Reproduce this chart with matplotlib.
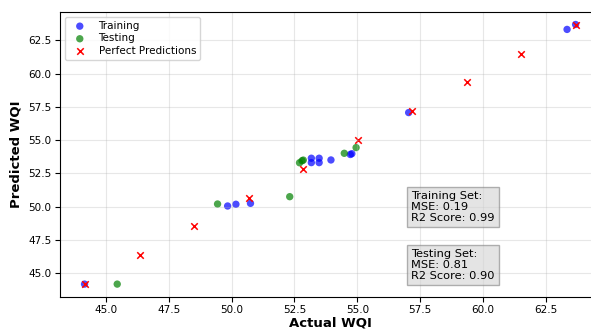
#!/usr/bin/env python3

import matplotlib
matplotlib.use('Agg')
import matplotlib.pyplot as plt

# training set: actual vs predicted
train_actual = [44.15, 49.84, 50.17, 50.75, 53.17, 53.48, 53.17, 53.48,
                53.95, 54.72, 54.78, 57.04, 63.34, 63.68]
train_pred = [44.18, 50.05, 50.18, 50.25, 53.64, 53.64, 53.31, 53.31,
              53.51, 53.92, 53.98, 57.07, 63.32, 63.69]

# testing set: actual vs predicted
test_actual = [45.45, 49.44, 52.31, 52.70, 52.80, 52.85, 54.48, 54.95]
test_pred = [44.18, 50.20, 50.75, 53.30, 53.45, 53.50, 54.01, 54.44]

# perfect prediction line points
perfect = [44.18, 46.35, 48.51, 50.68, 52.85, 55.01, 57.18, 59.35, 61.51, 63.68]

train_txt = "Training Set:\nMSE: 0.19\nR2 Score: 0.99"
test_txt = "Testing Set:\nMSE: 0.81\nR2 Score: 0.90"

fig = plt.figure(figsize=(5.91, 3.29), dpi=100)
ax = fig.add_axes([0.1015, 0.097, 0.914, 0.868])

ax.scatter(train_actual, train_pred, color='blue', alpha=0.7, s=28,
           edgecolors='none', label='Training')
ax.scatter(test_actual, test_pred, color='green', alpha=0.7, s=28,
           edgecolors='none', label='Testing')
ax.scatter(perfect, perfect, color='red', marker='x', s=22, linewidths=1.1,
           label='Perfect Predictions')

ax.grid(True, alpha=0.3)
ax.tick_params(labelsize=7.5, pad=2.5)
ax.set_xlabel('Actual WQI', fontsize=9.5, fontweight='bold', labelpad=1)
ax.set_ylabel('Predicted WQI', fontsize=9.5, fontweight='bold', labelpad=4)

ax.legend(loc='upper left', fontsize=7.5, handletextpad=0.8,
          borderpad=0.4, labelspacing=0.25)

box = dict(boxstyle='square,pad=0.35', facecolor='lightgray',
           edgecolor='gray', alpha=0.6)
ax.text(0.650, 0.370, train_txt, transform=ax.transAxes, fontsize=8.2,
        va='top', ha='left', bbox=box, linespacing=1.1)
ax.text(0.650, 0.168, test_txt, transform=ax.transAxes, fontsize=8.2,
        va='top', ha='left', bbox=box, linespacing=1.1)

fig.savefig('out.png', dpi=100)
